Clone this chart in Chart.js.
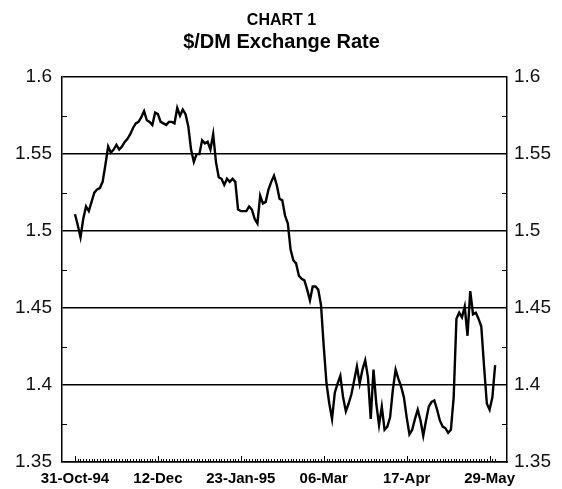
<!DOCTYPE html>
<html>
<head>
<meta charset="utf-8">
<script src="https://cdn.jsdelivr.net/npm/chart.js@4"></script>
<style>
  html, body { margin: 0; padding: 0; background: #fff; }
  #wrap { width: 562px; height: 489px; }
</style>
</head>
<body>
<div id="wrap"><canvas id="chart"></canvas></div>
<script>
// business days, one label every 30 (6 weeks)
const tickLabels = ['31-Oct-94', '12-Dec', '23-Jan-95', '06-Mar', '17-Apr', '29-May'];
const tickEvery = 30;

// $/DM daily rate, 31-Oct-94 .. 31-May-95
const rate = [
  1.511, 1.504, 1.496, 1.508, 1.516, 1.513, 1.519, 1.525, 1.527, 1.528,
  1.532, 1.543, 1.555, 1.551, 1.553, 1.556, 1.553, 1.555, 1.558, 1.560,
  1.563, 1.567, 1.570, 1.571, 1.574, 1.578, 1.572, 1.571, 1.569, 1.577,
  1.576, 1.571, 1.570, 1.569, 1.571, 1.571, 1.570, 1.580, 1.575, 1.579,
  1.576, 1.568, 1.553, 1.545, 1.550, 1.550, 1.559, 1.557, 1.558, 1.553,
  1.563, 1.545, 1.535, 1.534, 1.530, 1.534, 1.532, 1.534, 1.532, 1.514,
  1.513, 1.513, 1.513, 1.516, 1.514, 1.508, 1.505, 1.523, 1.518, 1.519,
  1.527, 1.532, 1.536, 1.530, 1.521, 1.520, 1.510, 1.505, 1.488, 1.481,
  1.479, 1.471, 1.469, 1.468, 1.462, 1.455, 1.464, 1.464, 1.462, 1.452,
  1.425, 1.401, 1.388, 1.378, 1.395, 1.401, 1.406, 1.392, 1.383, 1.388,
  1.394, 1.403, 1.412, 1.401, 1.410, 1.416, 1.405, 1.378, 1.410, 1.388,
  1.374, 1.386, 1.371, 1.373, 1.379, 1.397, 1.410, 1.404, 1.399, 1.392,
  1.379, 1.368, 1.371, 1.378, 1.384, 1.377, 1.367, 1.377, 1.386, 1.389,
  1.390, 1.384, 1.377, 1.373, 1.372, 1.369, 1.371, 1.392, 1.443, 1.447,
  1.444, 1.451, 1.432, 1.461, 1.446, 1.447, 1.443, 1.438, 1.412, 1.388,
  1.384, 1.392, 1.413
];

const yTicks = [1.35, 1.4, 1.45, 1.5, 1.55, 1.6];
const yMinor = yTicks.slice(1).map((v, i) => (v + yTicks[i]) / 2);

const font = 'Liberation Sans, Arial, sans-serif';

const innerTicks = {
  id: 'innerTicks',
  afterDatasetsDraw(chart) {
    const { ctx, chartArea: a, scales } = chart;
    ctx.save();
    ctx.strokeStyle = '#000';
    ctx.lineWidth = 1;
    ctx.beginPath();
    yMinor.forEach(v => {
      const y = Math.round(scales.y.getPixelForValue(v)) + 0.5;
      ctx.moveTo(a.left, y); ctx.lineTo(a.left + 5, y);
      ctx.moveTo(a.right, y); ctx.lineTo(a.right - 5, y);
    });
    rate.forEach((_, i) => {
      const x = Math.round(scales.x.getPixelForValue(i)) + 0.5;
      const len = i % tickEvery === 0 ? 6 : 3;
      ctx.moveTo(x, a.bottom); ctx.lineTo(x, a.bottom - len);
    });
    ctx.stroke();
    ctx.restore();
  }
};

const yAxis = (pos) => ({
  type: 'linear',
  position: pos,
  min: 1.35,
  max: 1.6,
  afterBuildTicks: s => { s.ticks = yTicks.map(v => ({ value: v })); },
  grid: pos === 'left'
    ? { color: '#000', lineWidth: 1.5, drawTicks: false }
    : { display: false, drawTicks: false },
  border: { display: true, color: '#000', width: 1.5 },
  ticks: {
    color: '#111',
    padding: pos === 'left' ? 10 : 7,
    font: { family: font, size: 19 },
    callback: v => String(v)
  }
});

new Chart(document.getElementById('chart'), {
  type: 'line',
  data: {
    datasets: [{
      data: rate.map((v, i) => ({ x: i, y: v })),
      borderColor: '#000',
      borderWidth: 2.4,
      pointRadius: 0,
      tension: 0,
      fill: false
    }]
  },
  options: {
    responsive: true,
    maintainAspectRatio: false,
    animation: false,
    layout: { padding: { left: 5, right: 4, top: 0, bottom: -7 } },
    plugins: {
      legend: { display: false },
      tooltip: { enabled: false },
      title: {
        display: true,
        text: 'CHART 1',
        color: '#000',
        font: { family: font, size: 16, weight: 'bold' },
        padding: { top: 11, bottom: 0 }
      },
      subtitle: {
        display: true,
        text: '$/DM Exchange Rate',
        color: '#000',
        font: { family: font, size: 20, weight: 'bold' },
        padding: { top: 0, bottom: 23 }
      }
    },
    scales: {
      x: {
        type: 'linear',
        min: -4.7,
        max: 156.3,
        afterBuildTicks: s => { s.ticks = tickLabels.map((_, i) => ({ value: i * tickEvery })); },
        grid: { display: false, drawTicks: false },
        border: { display: true, color: '#000', width: 1.5 },
        ticks: {
          color: '#000',
          padding: 8,
          maxRotation: 0,
          autoSkip: false,
          font: { family: font, size: 15, weight: 'bold' },
          callback: (v, i) => tickLabels[i]
        }
      },
      y: yAxis('left'),
      y2: yAxis('right')
    }
  },
  plugins: [innerTicks]
});
</script>
</body>
</html>
